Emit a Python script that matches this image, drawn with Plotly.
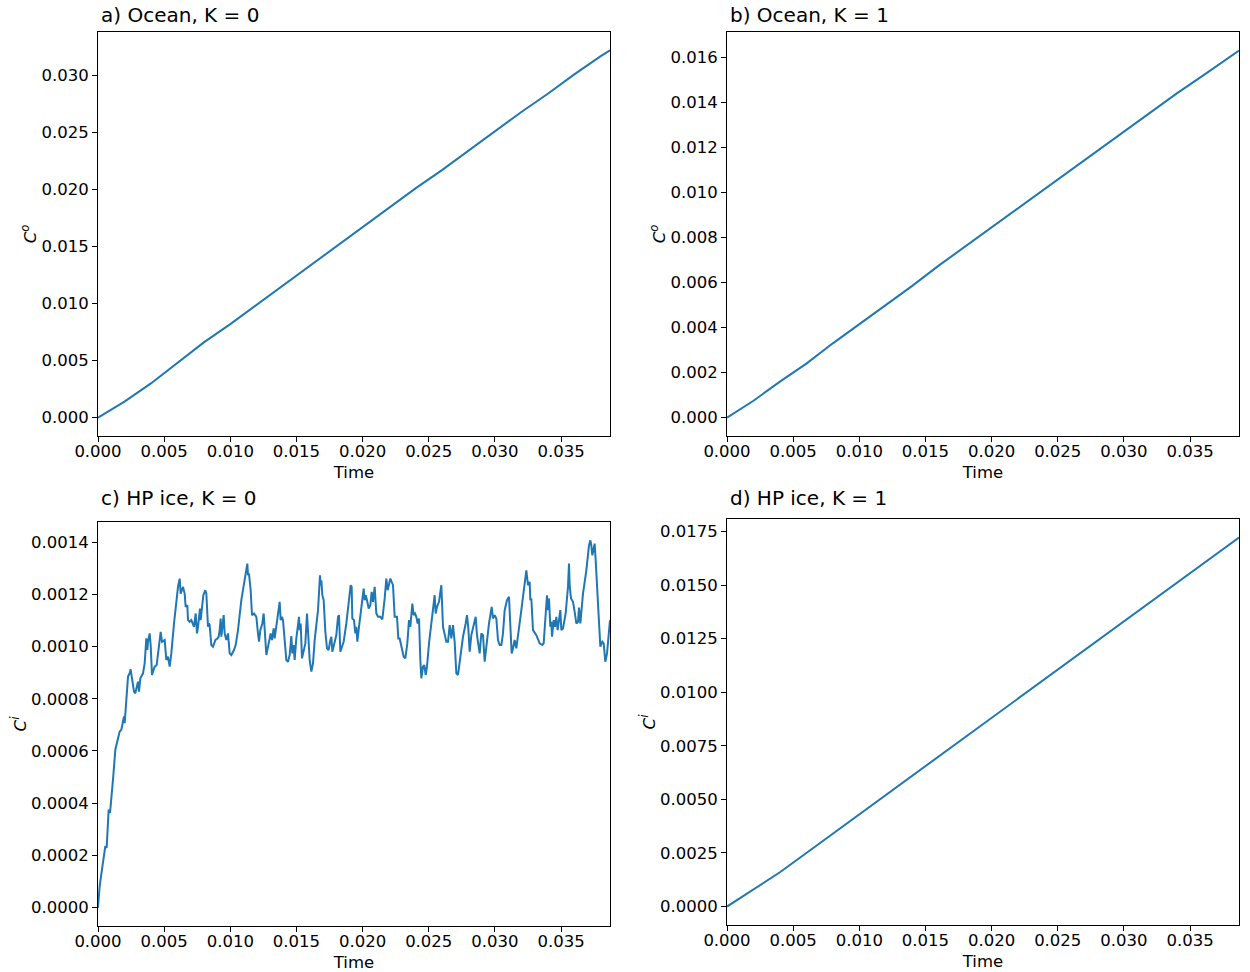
import plotly.graph_objects as go

# ---- time axis (ms) and concentrations (x 1e-3) ---------------------------
# a) Ocean, K = 0
t_ocean0 = [0.0, 2.0, 4.0, 6.0, 8.0, 10.0, 12.0, 14.0, 16.0, 18.0, 20.0, 22.0,
            24.0, 26.0, 28.0, 30.0, 32.0, 34.0, 36.0, 38.0, 38.7]
c_ocean0 = [0.0, 1.4, 3.0, 4.8, 6.6, 8.2, 9.9, 11.6, 13.3, 15.0, 16.7, 18.4,
            20.1, 21.7, 23.4, 25.1, 26.8, 28.4, 30.1, 31.7, 32.2]

# b) Ocean, K = 1
t_ocean1 = [0.0, 2.0, 4.0, 6.0, 8.0, 10.0, 12.0, 14.0, 16.0, 18.0, 20.0, 22.0,
            24.0, 26.0, 28.0, 30.0, 32.0, 34.0, 36.0, 38.0, 38.7]
c_ocean1 = [0.0, 0.75, 1.6, 2.4, 3.3, 4.15, 5.0, 5.85, 6.75, 7.6, 8.45, 9.3,
            10.15, 11.0, 11.85, 12.7, 13.55, 14.4, 15.2, 16.0, 16.3]

# c) HP ice, K = 0
t_ice0 = [
    0.0, 0.126, 0.302, 0.454, 0.554, 0.655, 0.806, 0.907, 1.008, 1.134, 1.310,
    1.386, 1.512, 1.638, 1.764, 1.890, 1.965, 2.016, 2.142, 2.268, 2.394, 2.469,
    2.570, 2.721, 2.822, 2.948, 3.023, 3.099, 3.200, 3.401, 3.527, 3.653, 3.729,
    3.779, 3.905, 3.981, 4.082, 4.157, 4.283, 4.434, 4.535, 4.661, 4.737, 4.837,
    5.039, 5.165, 5.291, 5.417, 5.543, 5.745, 5.921, 6.047, 6.173, 6.248, 6.425,
    6.551, 6.626, 6.752, 6.803, 6.929, 7.055, 7.256, 7.382, 7.483, 7.559, 7.634,
    7.710, 7.760, 7.861, 7.962, 8.113, 8.189, 8.314, 8.390, 8.440, 8.566, 8.692,
    8.869, 9.020, 9.121, 9.196, 9.272, 9.322, 9.398, 9.499, 9.574, 9.700, 9.826,
    9.952, 10.078, 10.280, 10.406, 10.582, 10.834, 11.086, 11.212, 11.288,
    11.338, 11.413, 11.539, 11.640, 11.791, 11.968, 12.094, 12.169, 12.270,
    12.421, 12.522, 12.598, 12.724, 12.850, 12.976, 13.051, 13.152, 13.278,
    13.353, 13.479, 13.605, 13.731, 13.807, 13.908, 13.983, 14.109, 14.235,
    14.361, 14.487, 14.613, 14.689, 14.790, 14.865, 14.991, 15.117, 15.193,
    15.243, 15.319, 15.420, 15.546, 15.672, 15.798, 15.924, 15.999, 16.125,
    16.251, 16.377, 16.629, 16.780, 16.831, 16.881, 16.957, 17.057, 17.183,
    17.309, 17.435, 17.536, 17.637, 17.712, 17.838, 18.015, 18.141, 18.216,
    18.317, 18.468, 18.569, 18.770, 18.972, 19.098, 19.173, 19.224, 19.350,
    19.451, 19.526, 19.602, 19.728, 19.904, 20.081, 20.156, 20.232, 20.333,
    20.459, 20.585, 20.685, 20.786, 20.912, 21.038, 21.164, 21.340, 21.492,
    21.668, 21.794, 21.895, 21.995, 22.096, 22.298, 22.424, 22.600, 22.701,
    22.802, 22.953, 23.104, 23.230, 23.381, 23.507, 23.608, 23.759, 23.860,
    23.961, 24.061, 24.162, 24.263, 24.364, 24.439, 24.565, 24.666, 24.767,
    24.868, 25.019, 25.195, 25.321, 25.447, 25.523, 25.624, 25.775, 25.951,
    26.077, 26.203, 26.329, 26.455, 26.581, 26.707, 26.833, 26.959, 27.085,
    27.211, 27.337, 27.463, 27.589, 27.791, 27.891, 27.992, 28.093, 28.219,
    28.345, 28.471, 28.546, 28.647, 28.748, 28.849, 28.975, 29.101, 29.227,
    29.352, 29.554, 29.756, 29.856, 29.982, 30.108, 30.234, 30.360, 30.486,
    30.612, 30.738, 30.915, 31.066, 31.167, 31.267, 31.368, 31.494, 31.620,
    31.746, 31.998, 32.250, 32.376, 32.502, 32.628, 32.678, 32.754, 32.880,
    33.132, 33.384, 33.585, 33.686, 33.837, 33.938, 34.014, 34.089, 34.190,
    34.266, 34.316, 34.442, 34.543, 34.644, 34.744, 34.845, 34.946, 35.021,
    35.147, 35.349, 35.525, 35.601, 35.651, 35.752, 35.903, 36.029, 36.155,
    36.281, 36.357, 36.458, 36.659, 36.911, 37.113, 37.214, 37.289, 37.365,
    37.466, 37.541, 37.617, 37.717, 37.869, 37.970, 38.121, 38.222, 38.348,
    38.474, 38.700,
]
c_ice0 = [
    0.0, 0.0827, 0.1464, 0.2100, 0.2355, 0.2291, 0.3755, 0.3627, 0.4136, 0.4900,
    0.6046, 0.6237, 0.6555, 0.6746, 0.6809, 0.7064, 0.7318, 0.7064, 0.8082,
    0.8846, 0.8973, 0.9126, 0.8782, 0.8273, 0.8209, 0.8527, 0.8655, 0.8273,
    0.8782, 0.8973, 0.9355, 1.0309, 0.9864, 1.0182, 1.0500, 1.0055, 0.8909,
    0.9037, 0.9227, 0.9291, 0.9736, 1.0246, 1.0564, 1.0182, 1.0246, 0.9482,
    0.9609, 0.9227, 0.9736, 1.0882, 1.1773, 1.2282, 1.2600, 1.2027, 1.2282,
    1.2027, 1.1518, 1.1582, 1.1009, 1.0946, 1.1009, 1.0755, 1.1264, 1.0500,
    1.0755, 1.1264, 1.1455, 1.1009, 1.1518, 1.1964, 1.2155, 1.2027, 1.0755,
    1.0882, 1.0818, 1.0055, 0.9991, 1.0246, 1.0309, 1.0373, 1.0627, 1.1073,
    1.0373, 1.0755, 1.1200, 1.0500, 1.0246, 1.0500, 0.9736, 0.9673, 0.9864,
    1.0055, 1.0627, 1.1773, 1.2537, 1.2855, 1.3173, 1.2728, 1.2791, 1.2155,
    1.1200, 1.1264, 1.1137, 1.0500, 1.0182, 1.0627, 1.0882, 1.1264, 1.0627,
    0.9673, 0.9991, 1.0309, 1.0500, 1.0246, 1.0691, 1.0309, 1.0755, 1.1200,
    1.1709, 1.1009, 1.1137, 1.1009, 1.0373, 0.9482, 0.9418, 0.9673, 1.0398,
    0.9736, 1.0055, 0.9482, 1.0309, 1.1009, 1.1137, 1.0627, 1.0882, 0.9546,
    0.9800, 1.0118, 1.1264, 0.9864, 0.9482, 0.9037, 0.9355, 1.0246, 1.1391,
    1.2728, 1.2346, 1.2537, 1.1964, 1.1773, 1.0564, 0.9927, 0.9864, 1.0182,
    1.0373, 0.9800, 1.0118, 1.0436, 1.1137, 1.1200, 0.9800, 1.0055, 1.0182,
    1.0882, 1.1773, 1.2346, 1.2282, 1.1073, 1.1009, 1.0500, 1.0755, 1.0182,
    1.0755, 1.1518, 1.2218, 1.1773, 1.1964, 1.1773, 1.1455, 1.1582, 1.2091,
    1.1709, 1.2282, 1.1264, 1.1137, 1.1137, 1.1035, 1.1837, 1.2600, 1.2155,
    1.2409, 1.2600, 1.2346, 1.1137, 1.1137, 1.0309, 1.0309, 0.9927, 0.9609,
    0.9546, 1.0118, 1.1009, 1.0755, 1.1646, 1.1200, 1.1264, 1.1137, 1.0882,
    1.1073, 0.9482, 0.8782, 0.9227, 0.9291, 0.8909, 0.9227, 1.0118, 1.0946,
    1.1455, 1.1964, 1.1264, 1.1518, 1.1709, 1.2346, 1.0755, 1.0436, 1.0182,
    1.0182, 1.0818, 1.0309, 1.0818, 1.0182, 0.8973, 0.8909, 0.9355, 0.9864,
    1.0373, 1.0882, 1.1200, 1.0691, 0.9800, 1.0436, 1.0755, 1.0946, 1.1137,
    1.0436, 0.9991, 0.9736, 1.0500, 1.0436, 0.9418, 0.9991, 1.0882, 1.1518,
    1.1073, 1.1200, 1.1073, 1.0246, 1.0055, 1.0055, 1.0500, 1.1391, 1.1773,
    1.1900, 1.0755, 0.9736, 0.9927, 1.0246, 0.9927, 1.0373, 1.1391, 1.2409,
    1.2918, 1.2346, 1.2473, 1.1773, 1.1837, 1.0627, 1.0436, 1.0118, 1.0055,
    1.0118, 1.1137, 1.1964, 1.1391, 1.1837, 1.0755, 1.0946, 1.0373, 1.1009,
    1.0755, 1.1137, 1.0627, 1.1009, 1.1391, 1.0627, 1.0691, 1.1264, 1.2282,
    1.3173, 1.2346, 1.1837, 1.1709, 1.1327, 1.0882, 1.0946, 1.1493, 1.0882,
    1.2027, 1.2918, 1.3873, 1.4064, 1.3873, 1.3491, 1.3682, 1.3937, 1.3300,
    1.2409, 1.1073, 0.9991, 1.0182, 1.0118, 0.9418, 0.9736, 1.1009,
]

# d) HP ice, K = 1
t_ice1 = [0.0, 2.0, 4.0, 6.0, 8.0, 10.0, 12.0, 14.0, 16.0, 18.0, 20.0, 22.0,
          24.0, 26.0, 28.0, 30.0, 32.0, 34.0, 36.0, 38.0, 38.7]
c_ice1 = [0.0, 0.8, 1.6, 2.5, 3.4, 4.3, 5.2, 6.1, 7.0, 7.9, 8.8, 9.7, 10.6,
          11.5, 12.4, 13.3, 14.2, 15.1, 16.0, 16.9, 17.22]

# ---- figure geometry (pixels) ---------------------------------------------
W, H = 1250, 972
BLUE = "#1f77b4"
FONT = "DejaVu Sans"
T_MAX = 0.0387

panels = [
    # (times, values, title, ylabel, box l, r, top, bottom, title lift,
    #  y range, y ticks, fmt)
    (t_ocean0, c_ocean0, "a) Ocean, K = 0", "<i>C<sup>o</sup></i>",
     98, 610, 32, 436, 3, [-0.00161, 0.03381],
     [0.0, 0.005, 0.010, 0.015, 0.020, 0.025, 0.030], ".3f"),
    (t_ocean1, c_ocean1, "b) Ocean, K = 1", "<i>C<sup>o</sup></i>",
     727, 1239, 32, 436, 3, [-0.000815, 0.017125],
     [0.0, 0.002, 0.004, 0.006, 0.008, 0.010, 0.012, 0.014, 0.016], ".3f"),
    (t_ice0, c_ice0, "c) HP ice, K = 0", "<i>C<sup>i</sup></i>",
     98, 610, 522, 926, 10, [-0.0000703, 0.0014767],
     [0.0, 0.0002, 0.0004, 0.0006, 0.0008, 0.0010, 0.0012, 0.0014], ".4f"),
    (t_ice1, c_ice1, "d) HP ice, K = 1", "<i>C<sup>i</sup></i>",
     727, 1239, 519, 925, 7, [-0.000861, 0.018081],
     [0.0, 0.0025, 0.0050, 0.0075, 0.0100, 0.0125, 0.0150, 0.0175], ".4f"),
]

fig = go.Figure()
annotations = []
layout_axes = {}

for i, (tt, cc, title, ylab, l, r, top, bot, lift, yr, yt, fmt) in enumerate(panels, start=1):
    sfx = "" if i == 1 else str(i)
    fig.add_trace(go.Scatter(
        x=[v * 1e-3 for v in tt], y=[v * 1e-3 for v in cc],
        mode="lines", line=dict(color=BLUE, width=2),
        xaxis="x" + sfx, yaxis="y" + sfx, showlegend=False,
        hoverinfo="skip",
    ))
    common = dict(
        showline=True, linecolor="black", linewidth=1, mirror=True,
        ticks="outside", ticklen=5, tickwidth=1, tickcolor="black",
        showgrid=False, zeroline=False, automargin=False,
        tickfont=dict(family=FONT, size=16.5, color="black"),
    )
    layout_axes["xaxis" + sfx] = dict(
        common, domain=[l / W, r / W], anchor="y" + sfx,
        range=[0, T_MAX], tickmode="array",
        tickvals=[0.0, 0.005, 0.010, 0.015, 0.020, 0.025, 0.030, 0.035],
        tickformat=".3f", ticklabelstandoff=-5,
        title=dict(text="Time", font=dict(family=FONT, size=16.5, color="black"),
                   standoff=6),
    )
    layout_axes["yaxis" + sfx] = dict(
        common, domain=[1 - bot / H, 1 - top / H], anchor="x" + sfx,
        range=yr, tickmode="array", tickvals=yt, tickformat=fmt,
        title=dict(text=ylab, font=dict(family=FONT, size=16.5, color="black"),
                   standoff=0),
    )
    annotations.append(dict(
        text=title, xref="paper", yref="paper", x=(l + 1) / W, y=1 - top / H,
        xanchor="left", yanchor="bottom", yshift=lift, showarrow=False,
        font=dict(family=FONT, size=20, color="black"),
    ))

fig.update_layout(
    width=W, height=H,
    margin=dict(l=0, r=0, t=0, b=0),
    paper_bgcolor="white", plot_bgcolor="white",
    annotations=annotations,
    **layout_axes,
)

fig.write_html("out.html")
